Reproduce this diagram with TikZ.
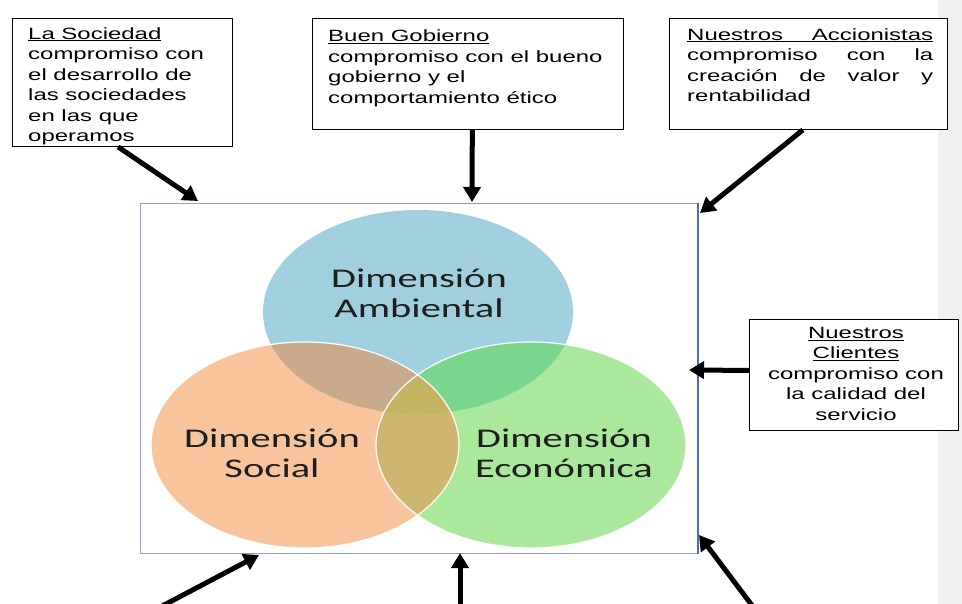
\documentclass[tikz,border=0pt]{standalone}
\usepackage{fontspec}
\usetikzlibrary{arrows.meta,calc}
\newfontfamily\arialx[FakeStretch=1.47]{Liberation Sans}
\newfontfamily\calx[FakeStretch=1.5]{Carlito}
\definecolor{cB}{RGB}{160,207,223}
\definecolor{cO}{RGB}{248,196,156}
\definecolor{cG}{RGB}{170,232,155}
\definecolor{cBO}{RGB}{200,170,140}
\definecolor{cBG}{RGB}{122,214,140}
\definecolor{cOG}{RGB}{205,183,112}
\definecolor{cBOG}{RGB}{196,180,100}
\definecolor{frameC}{RGB}{143,160,200}
\definecolor{rightC}{RGB}{74,111,181}
\definecolor{stripC}{RGB}{240,240,240}
\definecolor{lblC}{RGB}{30,30,30}
\begin{document}
\begin{tikzpicture}[x=1pt,y=-1pt,
  boxst/.style={draw=black,line width=0.9pt,fill=white,inner sep=0pt,anchor=north west},
  btext/.style={inner sep=0pt,font=\arialx\fontsize{16.3pt}{20.5pt}\selectfont,text=black},
  dimlbl/.style={inner sep=0pt,align=center,font=\calx\fontsize{27pt}{30pt}\selectfont,text=lblC},
  arr/.style={line width=5pt,-{Triangle[length=15pt,width=17pt]}}]
\clip (0,0) rectangle (962,604);
\fill[white] (0,0) rectangle (962,604);
\fill[stripC] (938,0) rectangle (962,604);
% circles
\def\cBpath{(418,312) ellipse [x radius=155pt, y radius=102pt]}
\def\cOpath{(305,445) ellipse [x radius=154pt, y radius=103pt]}
\def\cGpath{(531,445) ellipse [x radius=155pt, y radius=103pt]}
\fill[cB] \cBpath;
\fill[cO] \cOpath;
\fill[cG] \cGpath;
\begin{scope}\clip \cBpath; \fill[cBO] \cOpath; \fill[cBG] \cGpath; \end{scope}
\begin{scope}\clip \cOpath; \fill[cOG] \cGpath; \end{scope}
\begin{scope}\clip \cBpath; \clip \cOpath; \fill[cBOG] \cGpath; \end{scope}
\draw[white,line width=1.2pt] \cOpath;
\draw[white,line width=1.2pt] \cGpath;
\node[dimlbl] (lA) at (419,293) {Dimensión\\Ambiental};
\node[dimlbl] (lS) at (272,453) {Dimensión\\Social};
\node[dimlbl] (lE) at (564,453) {Dimensión\\Económica};
% frame
\node[draw=frameC,line width=1pt,minimum width=557pt,minimum height=350pt,inner sep=0pt,anchor=north west] (frame) at (140,203) {};
\draw[rightC,line width=2.5pt] (frame.north east) -- (frame.south east);
% boxes
\node[boxst,minimum width=220pt,minimum height=128pt] (b1) at (12,18) {};
\node[btext,anchor=north west,align=left] (t1) at (28,27) {\underline{La Sociedad}\\compromiso con\\el desarrollo de\\las sociedades\\en las que\\operamos};
\node[boxst,minimum width=311pt,minimum height=111pt] (b2) at (312,18) {};
\node[btext,anchor=north west,align=left] (t2) at (328,29.5) {\underline{Buen Gobierno}\\compromiso con el bueno\\gobierno y el\\comportamiento ético};
\node[boxst,minimum width=278pt,minimum height=111pt] (b3) at (669,18) {};
\node[btext,anchor=north west,align=left] (t3) at (687,28) {\underline{\makebox[246pt][s]{Nuestros Accionistas}}\\\makebox[246pt][s]{compromiso con la}\\\makebox[246pt][s]{creación de valor y}\\rentabilidad};
\node[boxst,minimum width=209pt,minimum height=111pt] (b4) at (749,319) {};
\node[btext,anchor=north,align=center] (t4) at (856,327) {\underline{Nuestros}\\\underline{Clientes}\\compromiso con\\la calidad del\\servicio};
% arrow ends
\coordinate (p1) at (198,201);
\coordinate (p2) at (472,202);
\coordinate (p3) at (700,213);
\coordinate (p4) at (689,370);
\coordinate (p5) at (259,555);
\coordinate (q5) at (147,614);
\coordinate (p6) at (460,553);
\coordinate (q6) at (460,615);
\coordinate (p7) at (699,535);
\coordinate (q7) at (757,612);
\draw[arr] ($(b1.south west)!0.48!(b1.south east)$) -- (p1);
\draw[arr] ($(b2.south west)!0.514!(b2.south east)$) -- (p2);
\draw[arr] ($(b3.south west)!0.48!(b3.south east)$) -- (p3);
\draw[arr] ([yshift=4.5pt]b4.west) -- (p4);
\draw[arr] (q5) -- (p5);
\draw[arr] (q6) -- (p6);
\draw[arr] (q7) -- (p7);
\end{tikzpicture}
\end{document}
